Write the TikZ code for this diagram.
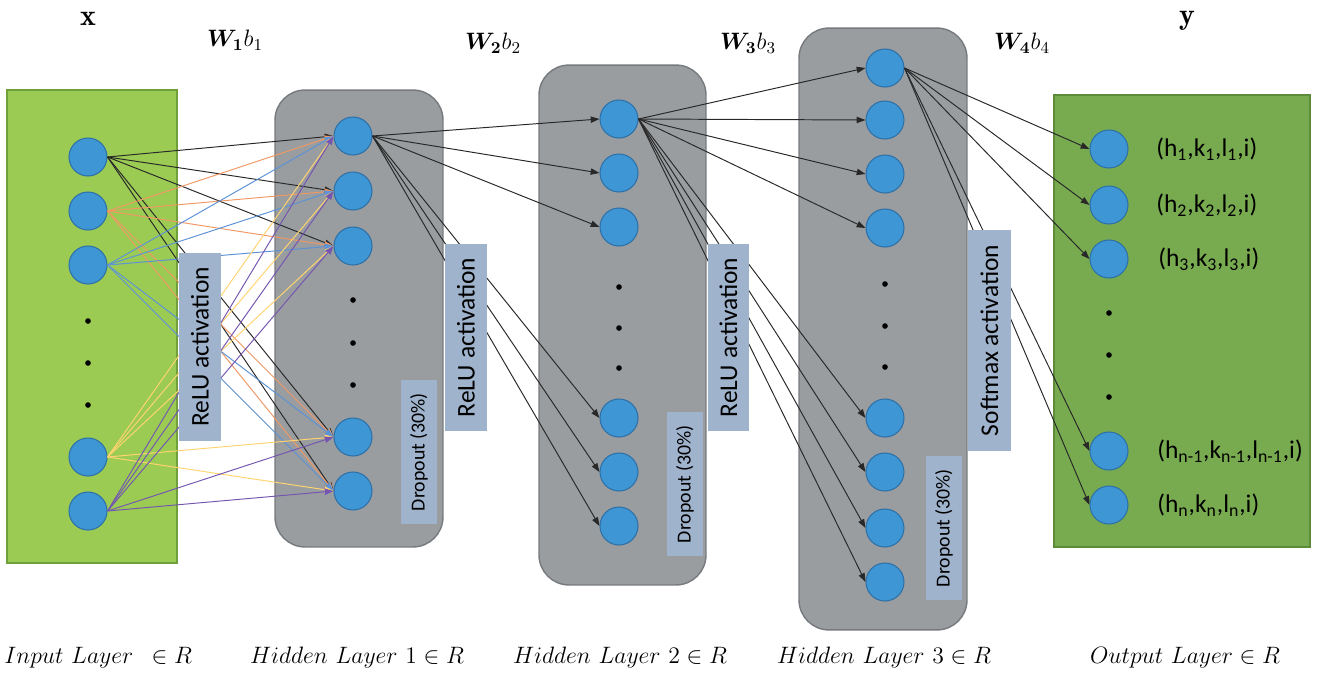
\RequirePackage{fix-cm}
\documentclass[tikz,border=0pt]{standalone}
\usepackage{bm}
\usepackage{fontspec}
\newfontfamily\calibri{Carlito}
\usetikzlibrary{arrows.meta}

\definecolor{ingreen}{RGB}{156,203,84}
\definecolor{ingreenline}{RGB}{112,160,60}
\definecolor{outgreen}{RGB}{120,171,80}
\definecolor{outgreenline}{RGB}{92,140,58}
\definecolor{boxgray}{RGB}{153,157,160}
\definecolor{boxgrayline}{RGB}{118,122,126}
\definecolor{actblue}{RGB}{160,179,204}
\definecolor{neuronblue}{RGB}{62,151,212}
\definecolor{neuronline}{RGB}{46,112,168}
\definecolor{linkblack}{RGB}{40,40,40}
\definecolor{linkorange}{RGB}{240,152,100}
\definecolor{linkblue}{RGB}{92,146,214}
\definecolor{linkyellow}{RGB}{255,212,112}
\definecolor{linkpurple}{RGB}{116,86,176}

\begin{document}
\begin{tikzpicture}[x=0.02cm, y=-0.02cm]
\tikzstyle{neuron}=[draw=neuronline,fill=neuronblue,circle,minimum size=0.76cm,inner sep=0pt,line width=0.6pt]
\tikzstyle{dot}=[fill=black,circle,inner sep=0pt,minimum size=3.2pt]
\tikzstyle{layerbox}=[draw=boxgrayline,fill=boxgray,rounded corners=0.6cm,line width=0.8pt]
\tikzstyle{actbox}=[fill=actblue,rotate=90,inner sep=0pt,font=\calibri\fontsize{14.5}{16}\selectfont]
\tikzstyle{dropbox}=[fill=actblue,rotate=90,inner sep=0pt,minimum width=2.88cm,minimum height=0.72cm,font=\calibri\fontsize{11.3}{13}\selectfont]
\tikzstyle{link}=[line width=0.55pt,-{Triangle[length=5pt,width=3.6pt]}]
\tikzstyle{mathlabel}=[font=\fontsize{13.5}{15}\selectfont]
\tikzstyle{veclabel}=[inner sep=0pt,font=\fontsize{17}{19}\selectfont]
\tikzstyle{outlabel}=[anchor=west,inner sep=0pt,font=\calibri\fontsize{14.5}{16}\selectfont]
\useasboundingbox (0,0) rectangle (1326,673);

  % layers
  \node[draw=ingreenline,fill=ingreen,line width=0.8pt,minimum width=3.4cm,minimum height=9.46cm] (inlayer) at (92,326.5) {};
  \node[layerbox,minimum width=3.36cm,minimum height=9.14cm] (hidA) at (359,318.5) {};
  \node[layerbox,minimum width=3.34cm,minimum height=10.4cm] (hidB) at (622.5,325) {};
  \node[layerbox,minimum width=3.36cm,minimum height=12.04cm] (hidC) at (883,329) {};
  \node[draw=outgreenline,fill=outgreen,line width=0.8pt,minimum width=5.12cm,minimum height=9.04cm] (outlayer) at (1182,321) {};

  % dropout
  \node[dropbox] (dropA) at (419,452) {Dropout (30\%)};
  \node[dropbox] (dropB) at (685,484) {Dropout (30\%)};
  \node[dropbox] (dropC) at (944,528) {Dropout (30\%)};

  % neurons
  \foreach \place/\name in {{(88,157)/in1},{(88,211)/in2},{(88,265)/in3},{(88,457)/in4},{(88,511)/in5},
                            {(353,136)/ha1},{(353,191)/ha2},{(353,246)/ha3},{(353,437)/ha4},{(353,491)/ha5},
                            {(619,119)/hb1},{(619,173)/hb2},{(619,227)/hb3},{(619,418)/hb4},{(619,472)/hb5},{(619,526)/hb6},
                            {(885,68)/hc1},{(885,120)/hc2},{(885,174)/hc3},{(885,228)/hc4},
                            {(885,418)/hc5},{(885,472)/hc6},{(885,528)/hc7},{(885,582)/hc8},
                            {(1109,149)/out1},{(1109,205)/out2},{(1109,259)/out3},{(1109,451)/out4},{(1109,505)/out5}}
    \node[neuron] (\name) at \place {};
  \foreach \place/\name in {{(88,321)/ind1},{(88,363)/ind2},{(88,405)/ind3},
                            {(353,300)/had1},{(353,343)/had2},{(353,385)/had3},
                            {(619,287)/hbd1},{(619,328)/hbd2},{(619,368)/hbd3},
                            {(885,284)/hcd1},{(885,326)/hcd2},{(885,367)/hcd3},
                            {(1109,313)/outd1},{(1109,355)/outd2},{(1109,397)/outd3}}
    \node[dot] (\name) at \place {};

  % weights
  \foreach \source/\tint in {in1/linkblack,in2/linkorange,in3/linkblue,in4/linkyellow,in5/linkpurple}
    \foreach \dest in {ha1,ha2,ha3,ha4,ha5}
      \draw[link,color=\tint] (\source.east) -- (\dest.west);
  \foreach \dest in {hb1,hb2,hb3,hb4,hb5,hb6}
    \draw[link,color=linkblack] (ha1.east) -- (\dest.west);
  \foreach \dest in {hc1,hc2,hc3,hc4,hc5,hc6,hc7,hc8}
    \draw[link,color=linkblack] (hb1.east) -- (\dest.west);
  \foreach \dest in {out1,out2,out3,out4,out5}
    \draw[link,color=linkblack] (hc1.east) -- (\dest.west);

  % activations
  \node[actbox,minimum width=3.76cm,minimum height=0.84cm] (actA) at (200,347) {ReLU activation};
  \node[actbox,minimum width=3.74cm,minimum height=0.84cm] (actB) at (466,337.5) {ReLU activation};
  \node[actbox,minimum width=3.74cm,minimum height=0.82cm] (actC) at (728.5,337.5) {ReLU activation};
  \node[actbox,minimum width=4.42cm,minimum height=0.86cm] (actD) at (989.5,340.5) {Softmax activation};

  % outputs
  \node[outlabel] (lab1) at (1156,149) {(h\textsubscript{1},k\textsubscript{1},l\textsubscript{1},i)};
  \node[outlabel] (lab2) at (1156,205) {(h\textsubscript{2},k\textsubscript{2},l\textsubscript{2},i)};
  \node[outlabel] (lab3) at (1158,259) {(h\textsubscript{3},k\textsubscript{3},l\textsubscript{3},i)};
  \node[outlabel] (lab4) at (1157,451) {(h\textsubscript{n-1},k\textsubscript{n-1},l\textsubscript{n-1},i)};
  \node[outlabel] (lab5) at (1157,505) {(h\textsubscript{n},k\textsubscript{n},l\textsubscript{n},i)};

  % titles
  \node[veclabel] (xlab) at (88,19) {$\mathbf{x}$};
  \node[veclabel] (ylab) at (1187,21) {$\mathbf{y}$};
  \node[mathlabel] (wa) at (235,40) {$\bm{W_1}b_1$};
  \node[mathlabel] (wb) at (493,43) {$\bm{W_2}b_2$};
  \node[mathlabel] (wc) at (748,43) {$\bm{W_3}b_3$};
  \node[mathlabel] (wd) at (1022,43) {$\bm{W_4}b_4$};
  \node[mathlabel,anchor=west,inner sep=0pt] (inname) at (4,658) {$Input\ Layer\ \,\in R$};
  \node[mathlabel] (haname) at (357,658) {$Hidden\ Layer\ 1\in R$};
  \node[mathlabel] (hbname) at (620,658) {$Hidden\ Layer\ 2\in R$};
  \node[mathlabel] (hcname) at (884,658) {$Hidden\ Layer\ 3\in R$};
  \node[mathlabel] (outname) at (1185,658) {$Output\ Layer\in R$};
\end{tikzpicture}
\end{document}
